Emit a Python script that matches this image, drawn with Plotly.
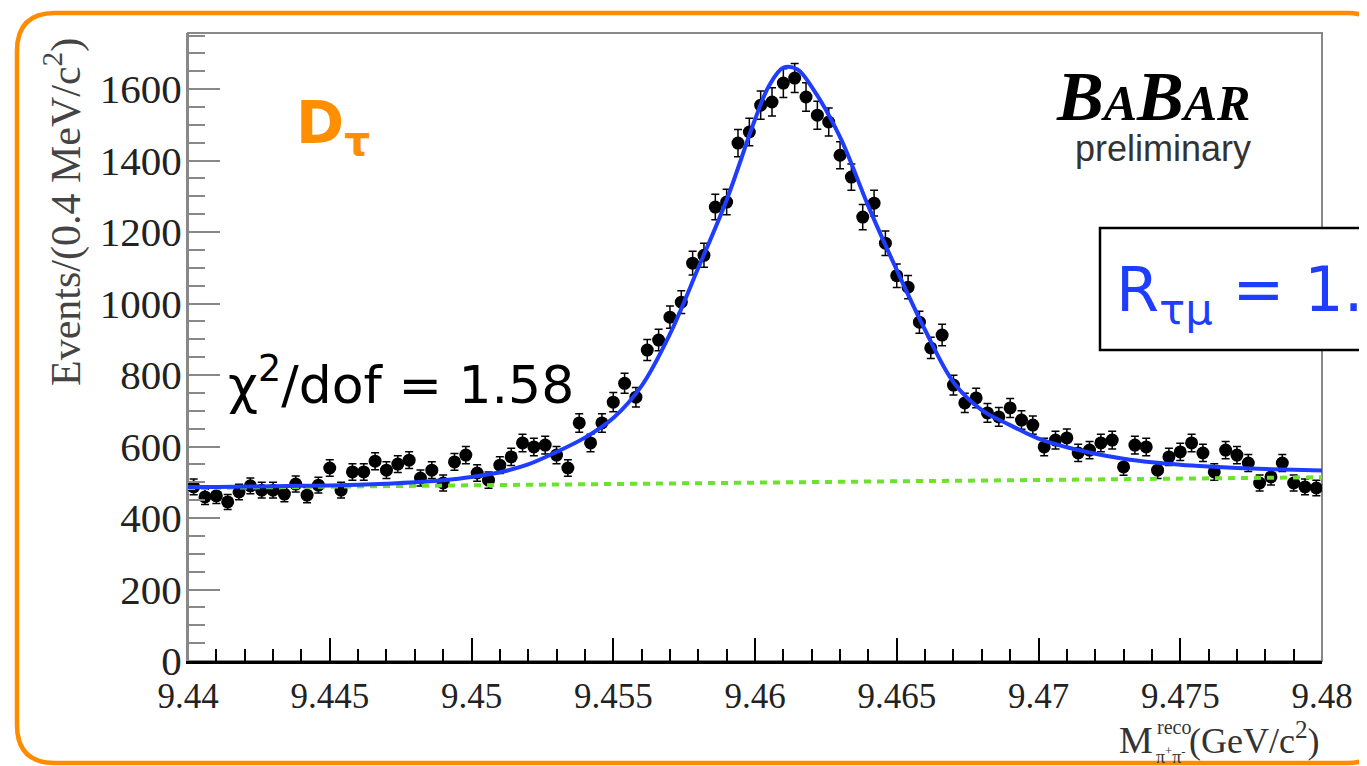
import numpy as np
import plotly.graph_objects as go

# ---------------- data ----------------
bin_lo = 9.44
bin_w = 0.0004
n_bins = 100
counts = [487, 459, 462, 445, 473, 490, 478, 478, 467, 495, 464, 492, 540, 478, 529, 529, 559, 534, 551, 562, 512,
          534, 498, 557, 576, 526, 506, 548, 571, 610, 599, 604, 576, 540, 666, 610, 666, 724, 777, 738, 870, 898, 962, 1004, 1113, 1135,
          1270, 1284, 1449, 1480, 1555, 1564, 1617, 1631, 1578, 1527, 1508, 1415, 1354, 1242, 1281, 1169, 1078,
          1046, 948, 876, 912, 772, 722, 736, 694, 683,
          708, 674, 660, 599, 618, 624, 582, 590, 610, 618, 543, 604, 599, 534, 571, 585, 610, 582, 529, 590, 576, 554, 498, 515, 554, 498, 487, 484]

fit_x = [9.440, 9.441, 9.442, 9.443, 9.444, 9.445, 9.446, 9.447, 9.448, 9.449, 9.450, 9.451, 9.452, 9.453, 9.454,
         9.455, 9.456, 9.457, 9.458, 9.459, 9.460, 9.4605, 9.461, 9.4615, 9.462, 9.463, 9.464, 9.465, 9.466, 9.467,
         9.468, 9.469, 9.470, 9.471, 9.472, 9.473, 9.474, 9.475, 9.476, 9.477, 9.478, 9.479, 9.480]
fit_y = [487, 487, 488, 489, 490, 491, 493, 496, 500, 506, 515, 528, 550, 585, 625,
         680, 770, 915, 1100, 1290, 1515, 1610, 1660, 1655, 1606, 1466, 1272, 1094, 926, 780,
         702, 660, 622, 598, 580, 566, 556, 549, 544, 540, 537, 535, 533]

bg_x = [9.44, 9.48]
bg_y = [484, 514]

x_tickvals = [9.44, 9.445, 9.45, 9.455, 9.46, 9.465, 9.47, 9.475, 9.48]
x_ticktext = ["9.44", "9.445", "9.45", "9.455", "9.46", "9.465", "9.47", "9.475", "9.48"]
y_tickvals = [0, 200, 400, 600, 800, 1000, 1200, 1400, 1600]
y_ticktext = ["0", "200", "400", "600", "800", "1000", "1200", "1400", "1600"]

bin_x = [bin_lo + bin_w * (i + 0.5) for i in range(n_bins)]
errs = list(np.sqrt(np.array(counts, dtype=float)))

# ---------------- layout geometry (page pixels) ----------------
W, H = 1367, 766
OFF = 8  # default body margin of the html page
L, R, T, B = 188, 1322, 33, 661


def pxx(x):
    return (x - L) / (R - L)


def pxy(y):
    return (B - y) / (B - T)


def rounded_rect(x0, y0, x1, y1, r):
    pts = [
        ("M", x0 + r, y0), ("L", x1 - r, y0), ("Q", x1, y0, x1, y0 + r),
        ("L", x1, y1 - r), ("Q", x1, y1, x1 - r, y1), ("L", x0 + r, y1),
        ("Q", x0, y1, x0, y1 - r), ("L", x0, y0 + r), ("Q", x0, y0, x0 + r, y0),
    ]
    s = ""
    for p in pts:
        cmd = p[0]
        coords = p[1:]
        parts = []
        for i in range(0, len(coords), 2):
            parts.append(f"{pxx(coords[i]):.5f},{pxy(coords[i+1]):.5f}")
        s += cmd + " ".join(parts) + " "
    return s + "Z"


fig = go.Figure()

fig.add_trace(go.Scatter(
    x=bin_x, y=counts, mode="markers",
    marker=dict(color="black", size=13, symbol="circle"),
    error_y=dict(type="data", array=errs, visible=True, color="black", thickness=1.5, width=4),
    showlegend=False, hoverinfo="x+y",
))
fig.add_trace(go.Scatter(
    x=bg_x, y=bg_y, mode="lines",
    line=dict(color="#6BE22E", width=4, dash="7px,6px"),
    showlegend=False,
))
fig.add_trace(go.Scatter(
    x=fit_x, y=fit_y, mode="lines", line_shape="spline",
    line=dict(color="#1F3DFF", width=4),
    showlegend=False,
))

fig.update_layout(
    width=W - OFF, height=H - OFF, autosize=False,
    margin=dict(l=L - OFF, r=W - R, t=T - OFF, b=H - B, pad=0),
    paper_bgcolor="white", plot_bgcolor="white",
    font=dict(family="Liberation Serif", color="#222"),
    showlegend=False,
)

fig.update_xaxes(
    range=[9.44, 9.48], tickmode="array", tickvals=x_tickvals, ticktext=x_ticktext,
    ticks="inside", ticklen=23, tickwidth=2, tickcolor="black",
    showline=True, linecolor="black", linewidth=3, mirror=False,
    showgrid=False, zeroline=False,
    tickfont=dict(family="Liberation Serif", size=35, color="#222"),
    ticklabelstandoff=2,
    minor=dict(tickmode="linear", tick0=9.44, dtick=0.001, ticks="inside", ticklen=12,
               tickwidth=2, tickcolor="black", showgrid=False),
)
fig.update_yaxes(
    range=[0, 1757], tickmode="array", tickvals=y_tickvals, ticktext=y_ticktext,
    ticks="inside", ticklen=32, tickwidth=2, tickcolor="#888",
    showline=True, linecolor="#888", linewidth=2, mirror=False,
    showgrid=False, zeroline=False,
    tickfont=dict(family="Liberation Serif", size=41, color="#222"),
    ticklabelstandoff=-4,
    minor=dict(tickmode="linear", tick0=0, dtick=50, ticks="inside", ticklen=17,
               tickwidth=2, tickcolor="#888", showgrid=False),
)

shapes = [
    # plot frame (top/right gray)
    dict(type="rect", xref="paper", yref="paper", x0=0, y0=0, x1=1, y1=1,
         line=dict(color="#888", width=2), fillcolor="rgba(0,0,0,0)", layer="below"),
    # orange rounded outer frame
    dict(type="path", xref="paper", yref="paper", path=rounded_rect(17, 13, 1385, 763, 38),
         line=dict(color="#FF8C00", width=4.5), fillcolor="rgba(0,0,0,0)", layer="above"),
    # R box
    dict(type="rect", xref="paper", yref="paper", x0=pxx(1100), x1=pxx(1420), y0=pxy(350), y1=pxy(228),
         line=dict(color="black", width=2.5), fillcolor="white", layer="above"),
]
fig.update_layout(shapes=shapes)

ann = []
# y title
ann.append(dict(xref="paper", yref="paper", x=pxx(63), y=pxy(36), xanchor="center", yanchor="top",
                text="Events/(0.4 MeV/c<sup>2</sup>)", textangle=-90, showarrow=False,
                font=dict(family="Liberation Serif", size=42, color="#444")))
# x title pieces
ann.append(dict(xref="paper", yref="paper", x=pxx(1155), y=pxy(740), xanchor="right", yanchor="middle",
                text="M", showarrow=False, font=dict(family="Liberation Serif", size=38, color="#333")))
ann.append(dict(xref="paper", yref="paper", x=pxx(1155), y=pxy(727), xanchor="left", yanchor="middle",
                text="reco", showarrow=False, font=dict(family="Liberation Serif", size=20, color="#333")))
ann.append(dict(xref="paper", yref="paper", x=pxx(1154), y=pxy(755), xanchor="left", yanchor="middle",
                text="π<sup>+</sup>π<sup>-</sup>", showarrow=False,
                font=dict(family="Liberation Serif", size=18, color="#333")))
ann.append(dict(xref="paper", yref="paper", x=pxx(1322), y=pxy(738), xanchor="right", yanchor="middle",
                text="(GeV/c<sup>2</sup>)", showarrow=False,
                font=dict(family="Liberation Serif", size=36, color="#333")))
# D tau label
ann.append(dict(xref="paper", yref="paper", x=pxx(294), y=pxy(127), xanchor="left", yanchor="middle",
                text="<b>D<sub>τ</sub></b>", showarrow=False,
                font=dict(family="DejaVu Sans", size=58, color="#FF8F00")))
# chi2 label
ann.append(dict(xref="paper", yref="paper", x=pxx(226), y=pxy(381), xanchor="left", yanchor="middle",
                text="χ<sup>2</sup>/dof = 1.58", showarrow=False,
                font=dict(family="DejaVu Sans", size=52, color="black")))
# BaBar logo
ann.append(dict(xref="paper", yref="paper", x=pxx(1252), y=pxy(96), xanchor="right", yanchor="middle",
                text="<b><i>B<span style='font-size:50px'>A</span>B<span style='font-size:50px'>AR</span></i></b>",
                showarrow=False, font=dict(family="Liberation Serif", size=70, color="black")))
ann.append(dict(xref="paper", yref="paper", x=pxx(1253), y=pxy(149), xanchor="right", yanchor="middle",
                text="preliminary", showarrow=False,
                font=dict(family="Liberation Sans", size=36, color="#333")))
# R tau mu
ann.append(dict(xref="paper", yref="paper", x=pxx(1114), y=pxy(293), xanchor="left", yanchor="middle",
                text="R<sub>τμ</sub> = 1.005", showarrow=False,
                font=dict(family="DejaVu Sans", size=62, color="#1F3DFF")))
fig.update_layout(annotations=ann)

fig.write_html("out.html")
